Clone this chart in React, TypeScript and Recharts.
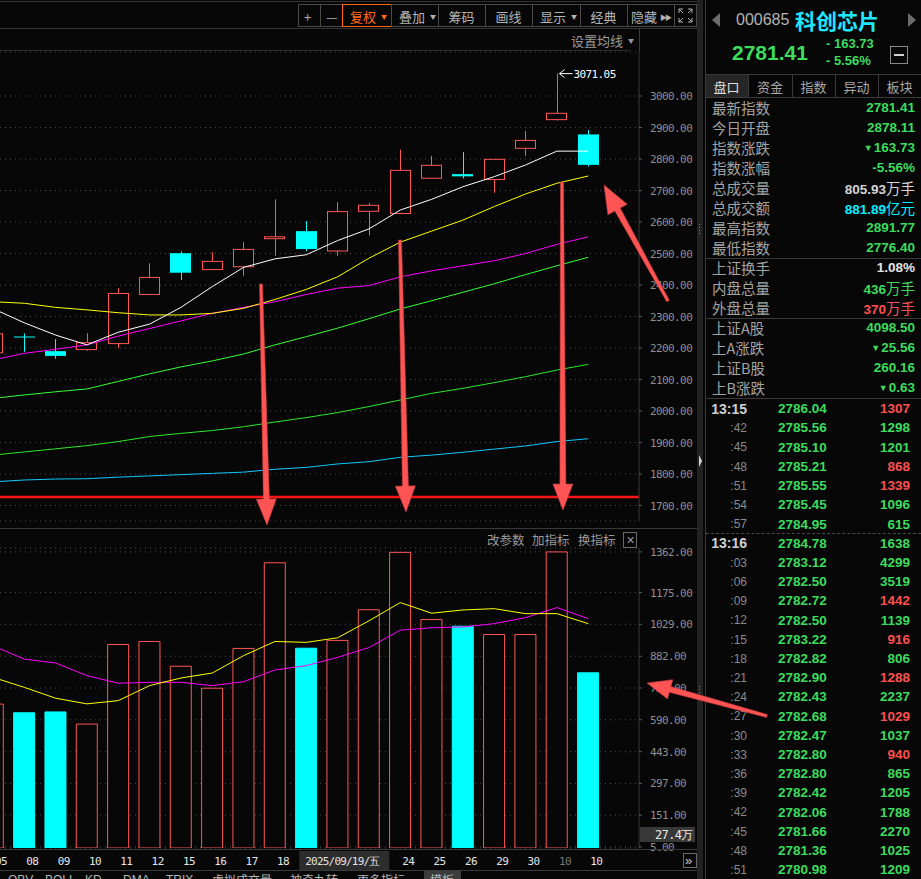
import React from "react";
import { Bar, CartesianGrid, Cell, ComposedChart, Line, ReferenceLine, XAxis, YAxis } from "recharts";

// daily candles, Sep 5 .. Oct 10
const days = ["05", "08", "09", "10", "11", "12", "15", "16", "17", "18", "19", "22", "23", "24", "25", "26", "29", "30", "10", "10"];
const opens = [2185, 2236.5, 2190, 2195, 2214, 2370, 2501, 2449, 2458, 2547, 2571, 2508, 2634, 2627, 2739, 2752, 2735, 2834, 2925, 2878.11];
const closes = [2245, 2235.5, 2175, 2217, 2373, 2424, 2439, 2475, 2513, 2553, 2514, 2633, 2653, 2764, 2780, 2745, 2799, 2859, 2945.14, 2781.41];
const highs = [2260, 2246, 2228, 2247, 2390, 2469, 2507, 2504, 2536, 2672, 2603, 2663, 2660, 2830, 2810, 2822, 2799, 2889, 3071.05, 2891.77];
const lows = [2175, 2188, 2166, 2191, 2200, 2370, 2416, 2449, 2429, 2493, 2507, 2493, 2557, 2627, 2739, 2738, 2693, 2810, 2922, 2776.4];

const ma5 = [2325, 2280, 2241, 2210, 2250, 2276, 2329, 2395, 2456, 2483, 2496, 2541, 2578, 2638, 2672, 2712, 2744, 2781, 2825, 2825];
const ma10 = [2347, 2342, 2329, 2321, 2312, 2305, 2305, 2310, 2326, 2354, 2386, 2426, 2485, 2536, 2571, 2606, 2649, 2689, 2723, 2746];
const ma20 = [2162, 2183, 2196, 2210, 2238, 2262, 2286, 2310, 2329, 2347, 2370, 2390, 2398, 2426, 2445, 2461, 2477, 2500, 2529, 2553];
const ma30 = [2040, 2051, 2061, 2070, 2094, 2118, 2140, 2159, 2181, 2210, 2236, 2263, 2293, 2324, 2350, 2377, 2404, 2433, 2461, 2488];
const ma60 = [1860, 1870, 1880, 1890, 1903, 1919, 1929, 1938, 1950, 1965, 1979, 1995, 2014, 2035, 2056, 2072, 2090, 2109, 2130, 2148];
const ma120 = [1775, 1781, 1784, 1785, 1790, 1794, 1798, 1802, 1806, 1815, 1821, 1832, 1839, 1853, 1860, 1869, 1879, 1889, 1903, 1912];
const supportLevel = 1727;

// volume, 万手
const volumes = [662, 622, 626, 570, 936, 950, 836, 735, 918, 1312, 919, 955, 1096, 1360, 1051, 1020, 982, 982, 1362.02, 805.93];
const volMa5 = [785, 739, 689, 663, 678, 747, 782, 805, 885, 950, 946, 967, 1045, 1129, 1080, 1095, 1101, 1078, 1078, 1032];
const volMa10 = [930, 869, 851, 793, 758, 762, 762, 747, 765, 819, 839, 877, 922, 1002, 1013, 1017, 1032, 1060, 1106, 1055];

const priceTicks = [1700, 1800, 1900, 2000, 2100, 2200, 2300, 2400, 2500, 2600, 2700, 2800, 2900, 3000];
const volTicks = [5, 151, 297, 443, 590, 736, 882, 1029, 1175, 1362];
const cursorIndex = 10;
const cursorLabel = "2025/09/19/五";
const dimDay = 18;

// quote panel
const quoteLabels = ["最新指数", "今日开盘", "指数涨跌", "指数涨幅", "总成交量", "总成交额", "最高指数", "最低指数"];
const quoteValues = ["2781.41", "2878.11", "▼163.73", "-5.56%", "805.93", "881.89", "2891.77", "2776.40"];
const quoteUnits = ["", "", "", "", "万手", "亿元", "", ""];
const flowLabels = ["上证换手", "内盘总量", "外盘总量"];
const flowValues = ["1.08%", "436", "370"];
const flowUnits = ["", "万手", "万手"];
const marketLabels = ["上证A股", "上A涨跌", "上证B股", "上B涨跌"];
const marketValues = ["4098.50", "▼25.56", "260.16", "▼0.63"];

const tickTimes = ["13:15", ":42", ":45", ":48", ":51", ":54", ":57", "13:16", ":03", ":06", ":09", ":12", ":15", ":18", ":21", ":24", ":27", ":30", ":33", ":36", ":39", ":42", ":45", ":48", ":51"];
const tickPrices = ["2786.04", "2785.56", "2785.10", "2785.21", "2785.55", "2785.45", "2784.95", "2784.78", "2783.12", "2782.50", "2782.72", "2782.50", "2783.22", "2782.82", "2782.90", "2782.43", "2782.68", "2782.47", "2782.80", "2782.80", "2782.42", "2782.06", "2781.66", "2781.36", "2780.98"];
const tickVols = [1307, 1298, 1201, 868, 1339, 1096, 615, 1638, 4299, 3519, 1442, 1139, 916, 806, 1288, 2237, 1029, 1037, 940, 865, 1205, 1788, 2270, 1025, 1209];
const tickSides = ["B", "S", "S", "B", "B", "S", "S", "S", "S", "S", "B", "S", "B", "S", "B", "S", "B", "S", "B", "S", "S", "S", "S", "S", "S"];

const toolButtons = ["+", "—", "复权", "叠加", "筹码", "画线", "显示", "经典", "隐藏", ""];
const bottomTabs = ["OBV", "BOLL", "KD", "DMA", "TRIX", "虚拟成交量", "神奇九转", "更多指标", "模板"];

const rows = days.map((day, i) => ({
  i,
  day,
  open: opens[i],
  close: closes[i],
  high: highs[i],
  low: lows[i],
  ma5: ma5[i],
  ma10: ma10[i],
  ma20: ma20[i],
  ma30: ma30[i],
  ma60: ma60[i],
  ma120: ma120[i],
  vol: volumes[i],
  vma5: volMa5[i],
  vma10: volMa10[i],
  volUp: i === 0 ? true : closes[i] >= closes[i - 1],
}));
const maxHigh = Math.max(...highs);

const BG = "#070707";
const RED = "#ff5656";
const CYAN = "#00ffff";
const GREEN = "#3ddc5c";
const GRID = "#4c4c4c";
const AXIS_TEXT = "#8e8e8e";
const LINE = "#333333";
const CJK = '"Noto Sans CJK SC", sans-serif';
const MONO = '"DejaVu Sans Mono", monospace';
const SANS = '"Liberation Sans", Arial, sans-serif';
const X_DOMAIN: [number, number] = [0.2244, 20.62];
const dayTicks = days.map((_, i) => i);

function Candle(props: any) {
  const { x, y, width, height, payload } = props;
  if (!payload || !height) return null;
  const { open, close, high, low } = payload;
  const k = height / (high - low);
  const py = (v: number) => y + (high - v) * k;
  const cx = Math.round(x + width / 2) + 0.5;
  const left = Math.round(x) + 0.5;
  const w = Math.round(width) - 1;
  const up = close >= open;
  const top = py(Math.max(open, close));
  const bot = py(Math.min(open, close));
  const bodyH = Math.max(bot - top, 1);
  const yh = py(high);
  return (
    <g>
      {up ? (
        <>
          <line x1={cx} x2={cx} y1={yh} y2={top} stroke={RED} />
          <line x1={cx} x2={cx} y1={bot} y2={py(low)} stroke={RED} />
          <rect x={left} y={top} width={w} height={bodyH} fill={BG} stroke={RED} />
        </>
      ) : (
        <>
          <line x1={cx} x2={cx} y1={yh} y2={py(low)} stroke={CYAN} />
          <rect x={left - 0.5} y={top} width={w + 1} height={bodyH} fill={CYAN} />
        </>
      )}
      {high === maxHigh && (
        <g>
          <line x1={cx + 2} x2={cx + 15} y1={yh} y2={yh} stroke="#ffffff" />
          <polyline points={`${cx + 7},${yh - 4} ${cx + 2},${yh} ${cx + 7},${yh + 4}`} fill="none" stroke="#ffffff" />
          <text x={cx + 16} y={yh + 4} fill="#ffffff" fontSize={11} fontFamily={MONO} letterSpacing={-0.6}>
            {high.toFixed(2)}
          </text>
        </g>
      )}
    </g>
  );
}

function AxisTick(props: any) {
  const { x, y, payload } = props;
  return (
    <text x={x + 6} y={y + 4} fill={AXIS_TEXT} fontSize={11} fontFamily={MONO} letterSpacing={-0.6}>
      {Number(payload.value).toFixed(2)}
    </text>
  );
}

function DayTick(props: any) {
  const { x, y, payload } = props;
  const i = payload.value;
  if (i === cursorIndex) {
    return (
      <g>
        <rect x={x - 7} y={y + 3} width={90} height={19} fill="#2d2d2d" />
        <text x={x - 1} y={y + 17} fill="#e2e2e2" fontSize={11} fontFamily={MONO} letterSpacing={-0.8}>
          {cursorLabel}
        </text>
      </g>
    );
  }
  if (i > cursorIndex && i <= cursorIndex + 2) return null;
  return (
    <text x={x + 2} y={y + 17} fill={i === dimDay ? "#7a7a7a" : "#e6e6e6"} fontSize={11} fontFamily={MONO} letterSpacing={-0.6}>
      {days[i]}
    </text>
  );
}

function T({ x, y, children, size = 14, color = "#a6a6a6", font = CJK, weight = 400, right = false, spacing = 0 }: any) {
  return (
    <div
      style={{
        position: "absolute",
        top: y - size / 2,
        left: right ? undefined : x,
        right: right ? 921 - x : undefined,
        fontSize: size,
        lineHeight: `${size}px`,
        color,
        fontFamily: font,
        fontWeight: weight,
        whiteSpace: "nowrap",
        letterSpacing: spacing,
      }}
    >
      {children}
    </div>
  );
}

function Box({ x, y, w, h, bg = "transparent", border }: any) {
  return (
    <div
      style={{
        position: "absolute",
        left: x,
        top: y,
        width: w,
        height: h,
        background: bg,
        boxSizing: "border-box",
        border: border ? `1px solid ${border}` : undefined,
      }}
    />
  );
}

function Arrow({ tail, tip, w0 = 3, w1 = 6, len = 26, head = 20 }: any) {
  const dx = tip[0] - tail[0];
  const dy = tip[1] - tail[1];
  const d = Math.hypot(dx, dy);
  const ux = dx / d;
  const uy = dy / d;
  const nx = -uy;
  const ny = ux;
  const bx = tip[0] - ux * len;
  const by = tip[1] - uy * len;
  const p = (px: number, py: number) => `${px.toFixed(1)},${py.toFixed(1)}`;
  const pts = [
    p(tail[0] + (nx * w0) / 2, tail[1] + (ny * w0) / 2),
    p(bx + (nx * w1) / 2, by + (ny * w1) / 2),
    p(bx + (nx * head) / 2, by + (ny * head) / 2),
    p(tip[0], tip[1]),
    p(bx - (nx * head) / 2, by - (ny * head) / 2),
    p(bx - (nx * w1) / 2, by - (ny * w1) / 2),
    p(tail[0] - (nx * w0) / 2, tail[1] - (ny * w0) / 2),
  ].join(" ");
  return <polygon points={pts} fill="#ff5454" stroke="#c83c3c" strokeWidth={0.6} />;
}

function Toolbar() {
  const xs = [298, 320, 342, 391, 438, 485, 532, 580, 627, 674, 696];
  const carets = [2, 3, 6];
  return (
    <>
      {toolButtons.map((label, k) => {
        const active = k === 2;
        const x = xs[k];
        const w = xs[k + 1] - x;
        const color = active ? "#ff6a1a" : "#b4b4b4";
        return (
          <div key={k}>
            <Box x={x} y={4} w={w + 1} h={23} border={active ? "#ff6a1a" : "#4a4a4a"} />
            <T x={x + (carets.includes(k) ? 8 : k === 8 ? 4 : w / 2 - (k < 2 ? 5 : 13))} y={16} size={13} color={color}>
              {label}
              {carets.includes(k) && <span style={{ fontSize: 6, marginLeft: 5, position: "relative", top: -3 }}>▼</span>}
              {k === 8 && <span style={{ fontSize: 7, marginLeft: 3, position: "relative", top: -2, letterSpacing: -2 }}>▶▶</span>}
            </T>
          </div>
        );
      })}
      <svg style={{ position: "absolute", left: 674, top: 4 }} width={23} height={23}>
        <g stroke="#b4b4b4" fill="none" strokeWidth={1}>
          <polyline points="5,9 5,5 9,5" />
          <polyline points="14,5 18,5 18,9" />
          <polyline points="5,14 5,18 9,18" />
          <polyline points="14,18 18,18 18,14" />
          <line x1={5} y1={5} x2={9} y2={9} />
          <line x1={18} y1={5} x2={14} y2={9} />
          <line x1={5} y1={18} x2={9} y2={14} />
          <line x1={18} y1={18} x2={14} y2={14} />
        </g>
      </svg>
      <T x={571} y={40} size={13} color="#9a9a9a">
        设置均线<span style={{ fontSize: 6, marginLeft: 5, position: "relative", top: -3 }}>▼</span>
      </T>
    </>
  );
}

function PriceChart() {
  return (
    <div style={{ position: "absolute", left: 0, top: 0 }}>
      <ComposedChart width={697} height={522} data={rows} margin={{ top: 52, right: 0, bottom: 1, left: 0 }}>
        <CartesianGrid vertical={false} stroke={GRID} strokeDasharray="1 4" />
        <XAxis dataKey="i" type="number" domain={X_DOMAIN} allowDataOverflow hide ticks={dayTicks} />
        <YAxis
          orientation="right"
          width={58}
          domain={[1650.8, 3139.7]}
          allowDataOverflow
          ticks={priceTicks}
          interval={0}
          tick={<AxisTick />}
          tickSize={3}
          tickLine={{ stroke: "#5a5a5a" }}
          axisLine={{ stroke: "#3a3a3a" }}
        />
        <ReferenceLine y={supportLevel} stroke="#ff1414" strokeWidth={2.5} />
        <Line dataKey="ma120" stroke="#12c8ff" dot={false} strokeWidth={1} isAnimationActive={false} />
        <Line dataKey="ma60" stroke="#2bea2b" dot={false} strokeWidth={1} isAnimationActive={false} />
        <Line dataKey="ma30" stroke="#33ff33" dot={false} strokeWidth={1} isAnimationActive={false} />
        <Line dataKey="ma20" stroke="#ff00ff" dot={false} strokeWidth={1} isAnimationActive={false} />
        <Line dataKey="ma10" stroke="#ffff00" dot={false} strokeWidth={1} isAnimationActive={false} />
        <Line dataKey="ma5" stroke="#ffffff" dot={false} strokeWidth={1} isAnimationActive={false} />
        <Bar dataKey={(d: any) => [d.low, d.high]} barSize={21} shape={(p: any) => <Candle {...p} />} isAnimationActive={false} />
      </ComposedChart>
    </div>
  );
}

function VolumeChart() {
  return (
    <div style={{ position: "absolute", left: 0, top: 529 }}>
      <ComposedChart width={697} height={341} data={rows} margin={{ top: 19, right: 0, bottom: 0, left: 0 }}>
        <CartesianGrid vertical={false} stroke={GRID} strokeDasharray="1 4" />
        <XAxis
          dataKey="i"
          type="number"
          domain={X_DOMAIN}
          allowDataOverflow
          ticks={dayTicks}
          interval={0}
          height={22}
          tickSize={0}
          tickMargin={0}
          tickLine={false}
          axisLine={false}
          tick={<DayTick />}
        />
        <YAxis
          orientation="right"
          width={58}
          domain={[0, 1380]}
          allowDataOverflow
          ticks={volTicks}
          interval={0}
          tick={<AxisTick />}
          tickSize={3}
          tickLine={{ stroke: "#5a5a5a" }}
          axisLine={{ stroke: "#3a3a3a" }}
        />
        <Bar dataKey="vol" barSize={21} isAnimationActive={false}>
          {rows.map((r) => (
            <Cell key={r.i} fill={r.volUp ? BG : CYAN} stroke={r.volUp ? RED : CYAN} strokeWidth={1} />
          ))}
        </Bar>
        <Line dataKey="vma10" stroke="#ff00ff" dot={false} strokeWidth={1} isAnimationActive={false} />
        <Line dataKey="vma5" stroke="#ffff00" dot={false} strokeWidth={1} isAnimationActive={false} />
      </ComposedChart>
    </div>
  );
}

function QuoteRow({ y, label, value, unit, color }: any) {
  const tri = value.startsWith("▼");
  return (
    <>
      <T x={712} y={y} size={14.5} color="#a4a4a4">
        {label}
      </T>
      <T x={915} y={y} size={13.5} color={color} font={SANS} weight={700} right>
        {tri && <span style={{ fontSize: 9, position: "relative", top: -1, marginRight: 1 }}>▼</span>}
        {tri ? value.slice(1) : value}
        {unit && <span style={{ fontFamily: CJK, fontWeight: 400, fontSize: 14.5 }}>{unit}</span>}
      </T>
    </>
  );
}

function RightPanel() {
  const tabs = ["盘口", "资金", "指数", "异动", "板块"];
  const tabX = [705, 748, 792, 835, 878, 921];
  const quoteColors = [GREEN, GREEN, GREEN, GREEN, "#d4d4d4", "#00f0ff", GREEN, GREEN];
  const flowColors = ["#e4e4e4", GREEN, "#ff5050"];
  return (
    <>
      <Box x={697} y={0} w={6} h={879} bg="#222222" />
      <Box x={705} y={0} w={1} h={879} bg="#3a3a3a" />
      <svg style={{ position: "absolute", left: 697, top: 0 }} width={8} height={879}>
        <polygon points="2,455 5,461 2,467" fill="#d8d8d8" />
        {[224, 227, 230, 233, 686, 689, 692, 695].map((yy) => (
          <rect key={yy} x={2} y={yy} width={1} height={1} fill="#8a8a8a" />
        ))}
      </svg>
      <svg style={{ position: "absolute", left: 706, top: 0 }} width={215} height={40}>
        <polygon points="14,13 6,20 14,27" fill="#6c6c6c" />
        <polygon points="202,13 210,20 202,27" fill="#6c6c6c" />
      </svg>
      <T x={736} y={20} size={16} color="#b4b4b4" font={SANS}>
        000685
      </T>
      <T x={795} y={20} size={21} color="#22e6ff" weight={700}>
        科创芯片
      </T>
      <T x={732} y={52} size={21} color={GREEN} font={SANS} weight={700}>
        2781.41
      </T>
      <T x={826} y={43} size={13} color={GREEN} font={SANS} weight={700}>
        - 163.73
      </T>
      <T x={826} y={60} size={13} color={GREEN} font={SANS} weight={700}>
        - 5.56%
      </T>
      <Box x={890} y={46} w={18} h={18} border="#8a8a8a" />
      <Box x={894} y={54} w={10} h={2} bg="#d0d0d0" />

      <Box x={706} y={74} w={215} h={1} bg="#3a3a3a" />
      <Box x={706} y={75} w={42} h={22} bg="#262626" />
      {tabs.map((t, k) => (
        <div key={t}>
          {k > 0 && <Box x={tabX[k]} y={75} w={1} h={22} bg="#3a3a3a" />}
          <T x={(tabX[k] + tabX[k + 1]) / 2 - 13} y={86} size={13} color={k === 0 ? "#e0e0e0" : "#a8a8a8"}>
            {t}
          </T>
        </div>
      ))}
      <Box x={706} y={97} w={215} h={1} bg="#3a3a3a" />

      {quoteLabels.map((l, k) => (
        <QuoteRow key={l} y={108 + k * 20} label={l} value={quoteValues[k]} unit={quoteUnits[k]} color={quoteColors[k]} />
      ))}
      <Box x={706} y={258} w={215} h={1} bg="#3a3a3a" />
      {flowLabels.map((l, k) => (
        <QuoteRow key={l} y={268 + k * 20} label={l} value={flowValues[k]} unit={flowUnits[k]} color={flowColors[k]} />
      ))}
      <Box x={706} y={318} w={215} h={1} bg="#3a3a3a" />
      {marketLabels.map((l, k) => (
        <QuoteRow key={l} y={328 + k * 20} label={l} value={marketValues[k]} unit="" color={GREEN} />
      ))}
      <Box x={706} y={398} w={215} h={1} bg="#3a3a3a" />

      {tickTimes.map((t, k) => {
        const y = 409 + k * 19.21;
        const full = t.length > 3;
        return (
          <div key={k}>
            <T x={747} y={y} size={full ? 14 : 12} color={full ? "#cfcfcf" : "#8a8a8a"} font={SANS} weight={full ? 700 : 400} right>
              {t}
            </T>
            <T x={778} y={y} size={13.5} color={GREEN} font={SANS} weight={700}>
              {tickPrices[k]}
            </T>
            <T x={910} y={y} size={13.5} color={tickSides[k] === "B" ? "#ff5050" : GREEN} font={SANS} weight={700} right>
              {tickVols[k]}
            </T>
          </div>
        );
      })}
      <div style={{ position: "absolute", left: 706, top: 533, width: 215, borderTop: "1px dashed #4a4a4a" }} />
    </>
  );
}

export default function App() {
  return (
    <div style={{ position: "absolute", left: 0, top: 0, width: 921, height: 879, background: BG, overflow: "hidden", fontFamily: CJK }}>
      <Box x={0} y={1} w={697} h={1} bg={LINE} />
      <Box x={0} y={28} w={697} h={1} bg={LINE} />
      <Box x={0} y={50} w={630} h={1} bg="#2c2c2c" />
      <Box x={639} y={28} w={1} h={24} bg="#3a3a3a" />
      <Toolbar />
      <PriceChart />
      <Box x={0} y={528} w={697} h={1} bg="#3a3a3a" />
      <VolumeChart />
      <T x={487} y={540} size={12.5} color="#9a9a9a">
        改参数
      </T>
      <T x={532} y={540} size={12.5} color="#9a9a9a">
        加指标
      </T>
      <T x={578} y={540} size={12.5} color="#9a9a9a">
        换指标
      </T>
      <Box x={623} y={532} w={14} h={16} border="#6a6a6a" />
      <T x={626} y={540} size={11} color="#9a9a9a" font={SANS}>
        ✕
      </T>
      <Box x={640} y={827} w={55} h={15} bg="#383838" />
      <T x={655} y={835} size={12} color="#e8e8e8" font={MONO} spacing={-0.6}>
        27.4万
      </T>
      <Box x={0} y={849} w={697} h={1} bg="#3a3a3a" />
      <Box x={0} y={870} w={697} h={1} bg="#3a3a3a" />
      <Box x={683} y={853} w={14} h={15} border="#6a6a6a" />
      <T x={685} y={860} size={13} color="#d0d0d0" font={SANS}>
        »
      </T>
      <Box x={424} y={871} w={37} h={9} bg="#3c3c3c" />
      {bottomTabs.map((t, k) => {
        const xs = [8, 45, 85, 123, 166, 212, 290, 357, 430];
        return (
          <T key={t} x={xs[k]} y={880} size={12} color="#b8b8b8" font={k < 5 ? SANS : CJK}>
            {t}
          </T>
        );
      })}
      <RightPanel />
      <svg style={{ position: "absolute", left: 0, top: 0, pointerEvents: "none" }} width={921} height={879}>
        <Arrow tail={[261, 284]} tip={[267, 525]} />
        <Arrow tail={[400, 240]} tip={[406, 512]} />
        <Arrow tail={[562, 182]} tip={[563, 510]} />
        <Arrow tail={[668, 301]} tip={[604, 185]} len={28} head={22} />
        <Arrow tail={[767, 716]} tip={[647, 683]} len={24} head={20} />
      </svg>
    </div>
  );
}
